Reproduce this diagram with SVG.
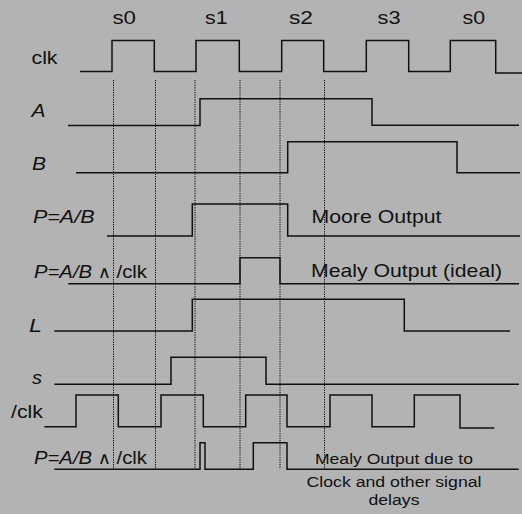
<svg xmlns="http://www.w3.org/2000/svg" width="522" height="514" viewBox="0 0 522 514">
  <style>
    text { font-family: "Liberation Sans", Arial, Helvetica, sans-serif; fill: #111; }
    .st { font-size: 18px; }
    .lb { font-size: 19px; }
    .it { font-style: italic; }
    .note { font-size: 15.5px; text-anchor: middle; }
    .op { font-family: "DejaVu Sans", sans-serif; font-style: normal; font-size: 17px; }
    .up { font-style: normal; }
    .wave { fill: none; stroke: #111; stroke-width: 1.5; stroke-linejoin: miter; }
    .guide { fill: none; stroke: #000; stroke-width: 1; stroke-dasharray: 1.2 1.2; }
  </style>

  <rect x="0" y="0" width="522" height="514" fill="#b3b3b3"/>

  <!-- state names above the clock periods -->
  <g id="states">
    <text class="st" x="112.5" y="23.5" textLength="23.5" lengthAdjust="spacingAndGlyphs">s0</text>
    <text class="st" x="205" y="23.5" textLength="22.5" lengthAdjust="spacingAndGlyphs">s1</text>
    <text class="st" x="289" y="23.5" textLength="24" lengthAdjust="spacingAndGlyphs">s2</text>
    <text class="st" x="377.5" y="23.5" textLength="23" lengthAdjust="spacingAndGlyphs">s3</text>
    <text class="st" x="462.5" y="23.5" textLength="22.5" lengthAdjust="spacingAndGlyphs">s0</text>
  </g>

  <!-- vertical dotted reference lines at the clock edges -->
  <g id="guides">
    <line class="guide" x1="113.5" y1="80" x2="113.5" y2="469"/>
    <line class="guide" x1="155.5" y1="80" x2="155.5" y2="469"/>
    <line class="guide" x1="195" y1="80" x2="195" y2="469"/>
    <line class="guide" x1="240" y1="80" x2="240" y2="469"/>
    <line class="guide" x1="280" y1="80" x2="280" y2="469"/>
    <line class="guide" x1="324.5" y1="80" x2="324.5" y2="469"/>
  </g>

  <g id="clk">
    <text class="lb" x="31.5" y="63.5" textLength="26" lengthAdjust="spacingAndGlyphs">clk</text>
    <polyline class="wave" points="80,71.5 112,71.5 112,40.5 154.3,40.5 154.3,71.5 196,71.5 196,40.5 239.3,40.5 239.3,71.5 281.7,71.5 281.7,40.5 323.7,40.5 323.7,71.5 366.3,71.5 366.3,40.5 408.7,40.5 408.7,71.5 450.3,71.5 450.3,40.5 495.7,40.5 495.7,73 522,73"/>
  </g>

  <g id="A">
    <text class="lb it" x="31.5" y="116.8" textLength="14" lengthAdjust="spacingAndGlyphs">A</text>
    <polyline class="wave" points="68,125.5 200,125.5 200,98.7 372,98.7 372,125.3 519,125.3"/>
  </g>

  <g id="B">
    <text class="lb it" x="32" y="170" textLength="14" lengthAdjust="spacingAndGlyphs">B</text>
    <polyline class="wave" points="76,172.7 287.7,172.7 287.7,141.7 457,141.7 457,172.7 520,172.7"/>
  </g>

  <g id="moore">
    <text class="lb it" x="33" y="223" textLength="61.5" lengthAdjust="spacingAndGlyphs">P=A/B</text>
    <polyline class="wave" points="107,236 192.3,236 192.3,204 287.7,204 287.7,236 520,236"/>
    <text class="lb" x="311.5" y="223" textLength="130" lengthAdjust="spacingAndGlyphs">Moore Output</text>
  </g>

  <g id="mealy-ideal">
    <text class="lb it" x="34" y="277.5" textLength="113" lengthAdjust="spacingAndGlyphs">P=A/B <tspan class="op">∧</tspan> <tspan class="up">/clk</tspan></text>
    <polyline class="wave" points="68.3,283.7 240,283.7 240,257.7 280,257.7 280,283.7 519,283.7"/>
    <text class="lb" x="311" y="277" textLength="191" lengthAdjust="spacingAndGlyphs">Mealy Output (ideal)</text>
  </g>

  <g id="L">
    <text class="lb it" x="29" y="331.5" textLength="13" lengthAdjust="spacingAndGlyphs">L</text>
    <polyline class="wave" points="54.3,331 192.3,331 192.3,299.3 404.3,299.3 404.3,331 510,331"/>
  </g>

  <g id="s">
    <text class="lb it" x="32" y="384" textLength="10" lengthAdjust="spacingAndGlyphs">s</text>
    <polyline class="wave" points="54.3,384.3 171,384.3 171,357.3 266,357.3 266,384.3 519,384.3"/>
  </g>

  <g id="nclk">
    <text class="lb" x="11" y="417.5" textLength="32" lengthAdjust="spacingAndGlyphs">/clk</text>
    <polyline class="wave" points="44.3,426.7 76,426.7 76,395 118.3,395 118.3,426.7 161,426.7 161,395 203.3,395 203.3,426.7 245.7,426.7 245.7,395 287,395 287,426.7 330,426.7 330,395 372,395 372,426.7 414.3,426.7 414.3,395 460,395 460,428 494.3,428"/>
  </g>

  <g id="mealy-real">
    <text class="lb it" x="34" y="463.5" textLength="113" lengthAdjust="spacingAndGlyphs">P=A/B <tspan class="op">∧</tspan> <tspan class="up">/clk</tspan></text>
    <polyline class="wave" points="54.3,469.3 200,469.3 200,442.7 205,442.7 205,469.3 253.3,469.3 253.3,442.7 287,442.7 287,469.3 518.7,469.3"/>
    <text class="note" x="394" y="464" textLength="158" lengthAdjust="spacingAndGlyphs">Mealy Output due to</text>
    <text class="note" x="394" y="486.5" textLength="175" lengthAdjust="spacingAndGlyphs">Clock and other signal</text>
    <text class="note" x="394" y="504.5" textLength="51" lengthAdjust="spacingAndGlyphs">delays</text>
  </g>
</svg>
